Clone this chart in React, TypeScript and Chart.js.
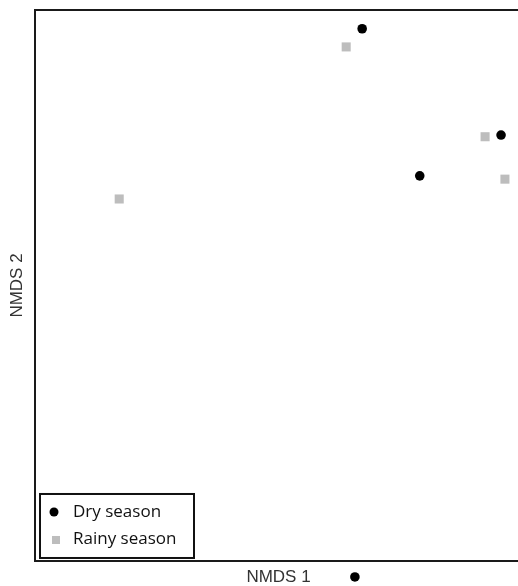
import React, { useEffect, useRef } from "react";
import { Chart, registerables } from "chart.js";

Chart.register(...registerables);

const seriesNames = ["Dry season", "Rainy season"];
const dryX = [67.6, 96.3, 79.5, 66.1];
const dryY = [96.6, 77.3, 69.9, -2.9];
const rainyX = [64.3, 93.0, 97.1, 17.4];
const rainyY = [93.3, 77.0, 69.3, 65.7];
const xTitle = "NMDS 1";
const yTitle = "NMDS 2";
const frameMin = 0;
const frameMax = 100;

const frameAndLegend = {
  id: "frameAndLegend",
  beforeDatasetsDraw(chart: any) {
    const { ctx, chartArea, scales } = chart;
    const top = scales.y.getPixelForValue(frameMax);
    const bottom = scales.y.getPixelForValue(frameMin);
    const left = chartArea.left;
    const right = chartArea.right + 10;
    ctx.save();
    ctx.strokeStyle = "#1a1a1a";
    ctx.lineWidth = 2;
    ctx.beginPath();
    ctx.moveTo(right, top);
    ctx.lineTo(left, top);
    ctx.lineTo(left, bottom);
    ctx.lineTo(right, bottom);
    ctx.stroke();
    ctx.fillStyle = "#333333";
    ctx.font = "17px 'Liberation Sans', Arial, sans-serif";
    ctx.textAlign = "center";
    ctx.textBaseline = "middle";
    ctx.fillText(xTitle, (left + chartArea.right) / 2 + 2, bottom + 16);
    ctx.translate(left - 17.5, (top + bottom) / 2);
    ctx.rotate(-Math.PI / 2);
    ctx.fillText(yTitle, 0, 0);
    ctx.restore();
  },
  afterDraw(chart: any) {
    const { ctx, chartArea, scales } = chart;
    const ds = chart.data.datasets;
    const frameBottom = scales.y.getPixelForValue(frameMin);
    const bx = chartArea.left + 5;
    const by = frameBottom - 67;
    const bw = 154;
    const bh = 64;
    ctx.save();
    ctx.fillStyle = "#ffffff";
    ctx.fillRect(bx, by, bw, bh);
    ctx.strokeStyle = "#111111";
    ctx.lineWidth = 2;
    ctx.strokeRect(bx, by, bw, bh);
    ctx.fillStyle = ds[0].backgroundColor;
    ctx.beginPath();
    ctx.arc(bx + 14, by + 18, 4.5, 0, Math.PI * 2);
    ctx.fill();
    ctx.fillStyle = ds[1].backgroundColor;
    ctx.fillRect(bx + 12, by + 42, 8, 8);
    ctx.fillStyle = "#111111";
    ctx.font = "17px 'Open Sans'";
    ctx.textBaseline = "middle";
    ctx.textAlign = "left";
    ctx.fillText(ds[0].label, bx + 33, by + 18);
    ctx.fillText(ds[1].label, bx + 33, by + 45);
    ctx.restore();
  },
};

export default function App() {
  const ref = useRef<HTMLCanvasElement>(null);
  useEffect(() => {
    if (!ref.current) return;
    const chart = new Chart(ref.current, {
      type: "scatter",
      data: {
        datasets: [
          {
            label: seriesNames[0],
            data: dryX.map((x, i) => ({ x, y: dryY[i] })),
            backgroundColor: "#000000",
            borderColor: "#000000",
            borderWidth: 0,
            pointStyle: "circle",
            pointRadius: 4.8,
            clip: false,
          },
          {
            label: seriesNames[1],
            data: rainyX.map((x, i) => ({ x, y: rainyY[i] })),
            backgroundColor: "#bdbdbd",
            borderColor: "#bdbdbd",
            borderWidth: 0,
            pointStyle: "rect",
            pointRadius: 6.4,
            clip: false,
          },
        ],
      },
      options: {
        responsive: false,
        animation: false,
        devicePixelRatio: 1,
        layout: { autoPadding: false, padding: { left: 35, top: 10, right: 0, bottom: 0 } },
        plugins: { legend: { display: false }, tooltip: { enabled: false } },
        scales: {
          x: { type: "linear", min: 0, max: 99.8, display: false },
          y: { type: "linear", min: -4.54, max: 100, display: false },
        },
      },
      plugins: [frameAndLegend],
    });
    return () => chart.destroy();
  }, []);
  return (
    <div style={{ position: "fixed", left: 0, top: 0, width: 518, height: 586, overflow: "hidden", background: "#fff" }}>
      <canvas ref={ref} width={518} height={586} style={{ display: "block", width: 518, height: 586 }} />
    </div>
  );
}
